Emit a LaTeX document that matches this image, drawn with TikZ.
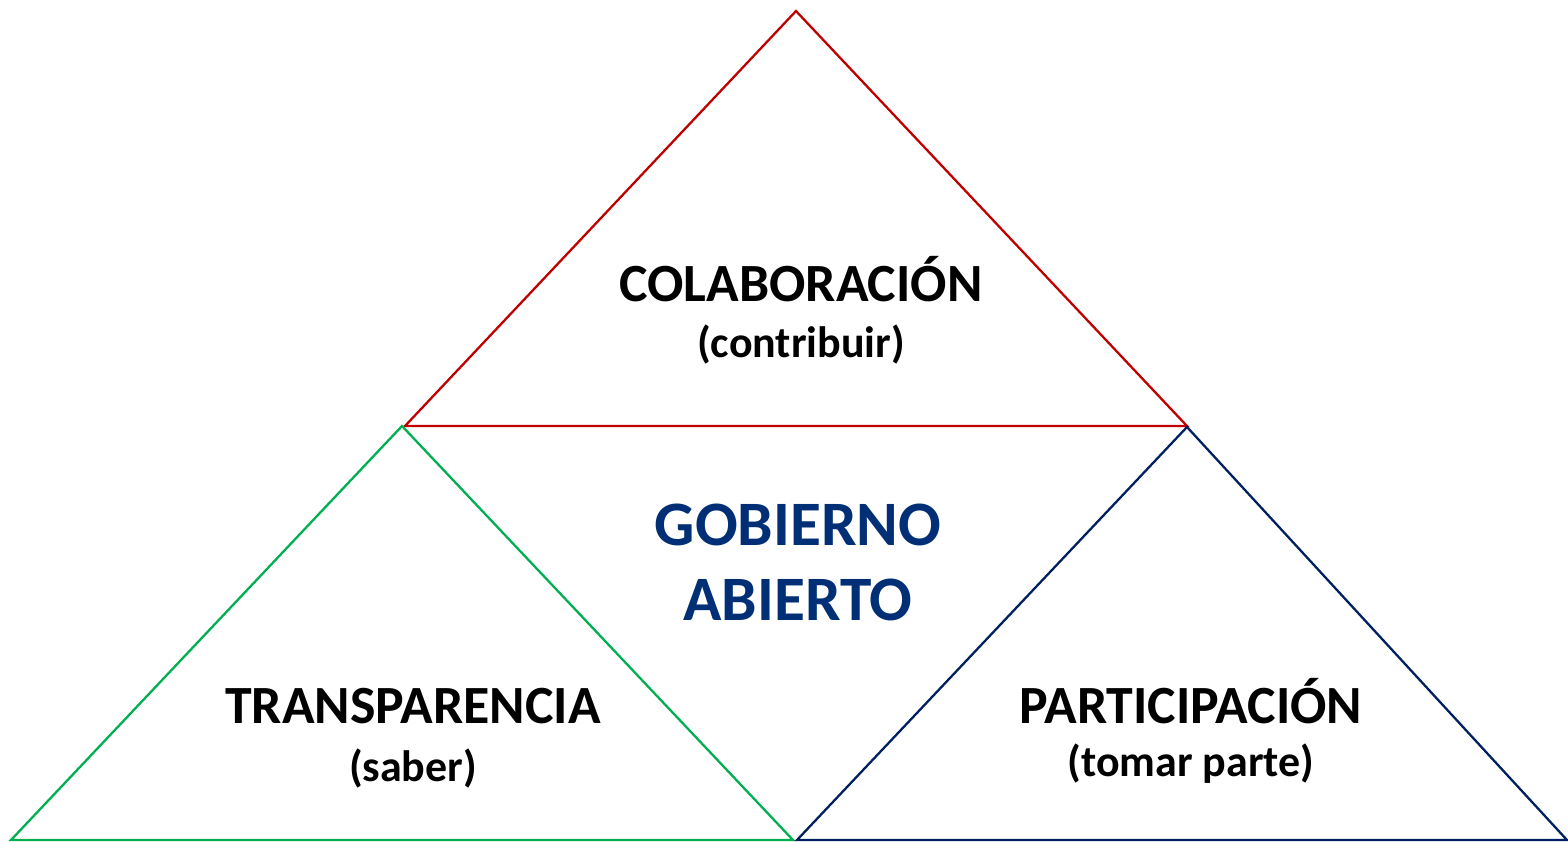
\documentclass[tikz,border=0pt]{standalone}
\usepackage{fontspec}
\setmainfont{Carlito}
\definecolor{rojo}{HTML}{C00000}
\definecolor{verde}{HTML}{00B050}
\definecolor{marino}{HTML}{002060}
\definecolor{azultexto}{HTML}{002F75}

\begin{document}
\begin{tikzpicture}[x=0.01cm, y=-0.01cm,
  lado/.style={line width=0.65pt, line join=miter},
  titulo/.style={font=\bfseries\fontsize{15.3}{18}\selectfont, anchor=base, inner sep=0pt},
  sub/.style={font=\bfseries\fontsize{12.5}{15}\selectfont, anchor=base, inner sep=0pt},
  centro/.style={font=\bfseries\fontsize{18}{20}\selectfont, anchor=base, inner sep=0pt, text=azultexto}]
\useasboundingbox (0,0) rectangle (1568,841);

% vertices
\coordinate (cTop) at (796,11);
\coordinate (cL) at (405,426);
\coordinate (cR) at (1187,426);
\coordinate (tTop) at (402,426);
\coordinate (tL) at (11,840);
\coordinate (tR) at (793,840);
\coordinate (pTop) at (1187,427);
\coordinate (pL) at (797,840);
\coordinate (pR) at (1567,840);

\draw[lado, rojo] (cTop) -- (cR) -- (cL) -- cycle;
\draw[lado, verde] (tTop) -- (tR) -- (tL) -- cycle;
\draw[lado, marino] (pTop) -- (pR) -- (pL) -- cycle;

\node[titulo] (colab) at (801,301) {COLABORACIÓN};
\node[sub] (colabsub) at (801,357) {(contribuir)};

\node[centro] (gob) at (798,545) {GOBIERNO};
\node[centro] (abi) at (798,620) {ABIERTO};

\node[titulo] (transp) at (413,723) {TRANSPARENCIA};
\node[sub] (transpsub) at (413,781) {(saber)};

\node[titulo] (partic) at (1191,723) {PARTICIPACIÓN};
\node[sub] (particsub) at (1191,776) {(tomar parte)};
\end{tikzpicture}
\end{document}
